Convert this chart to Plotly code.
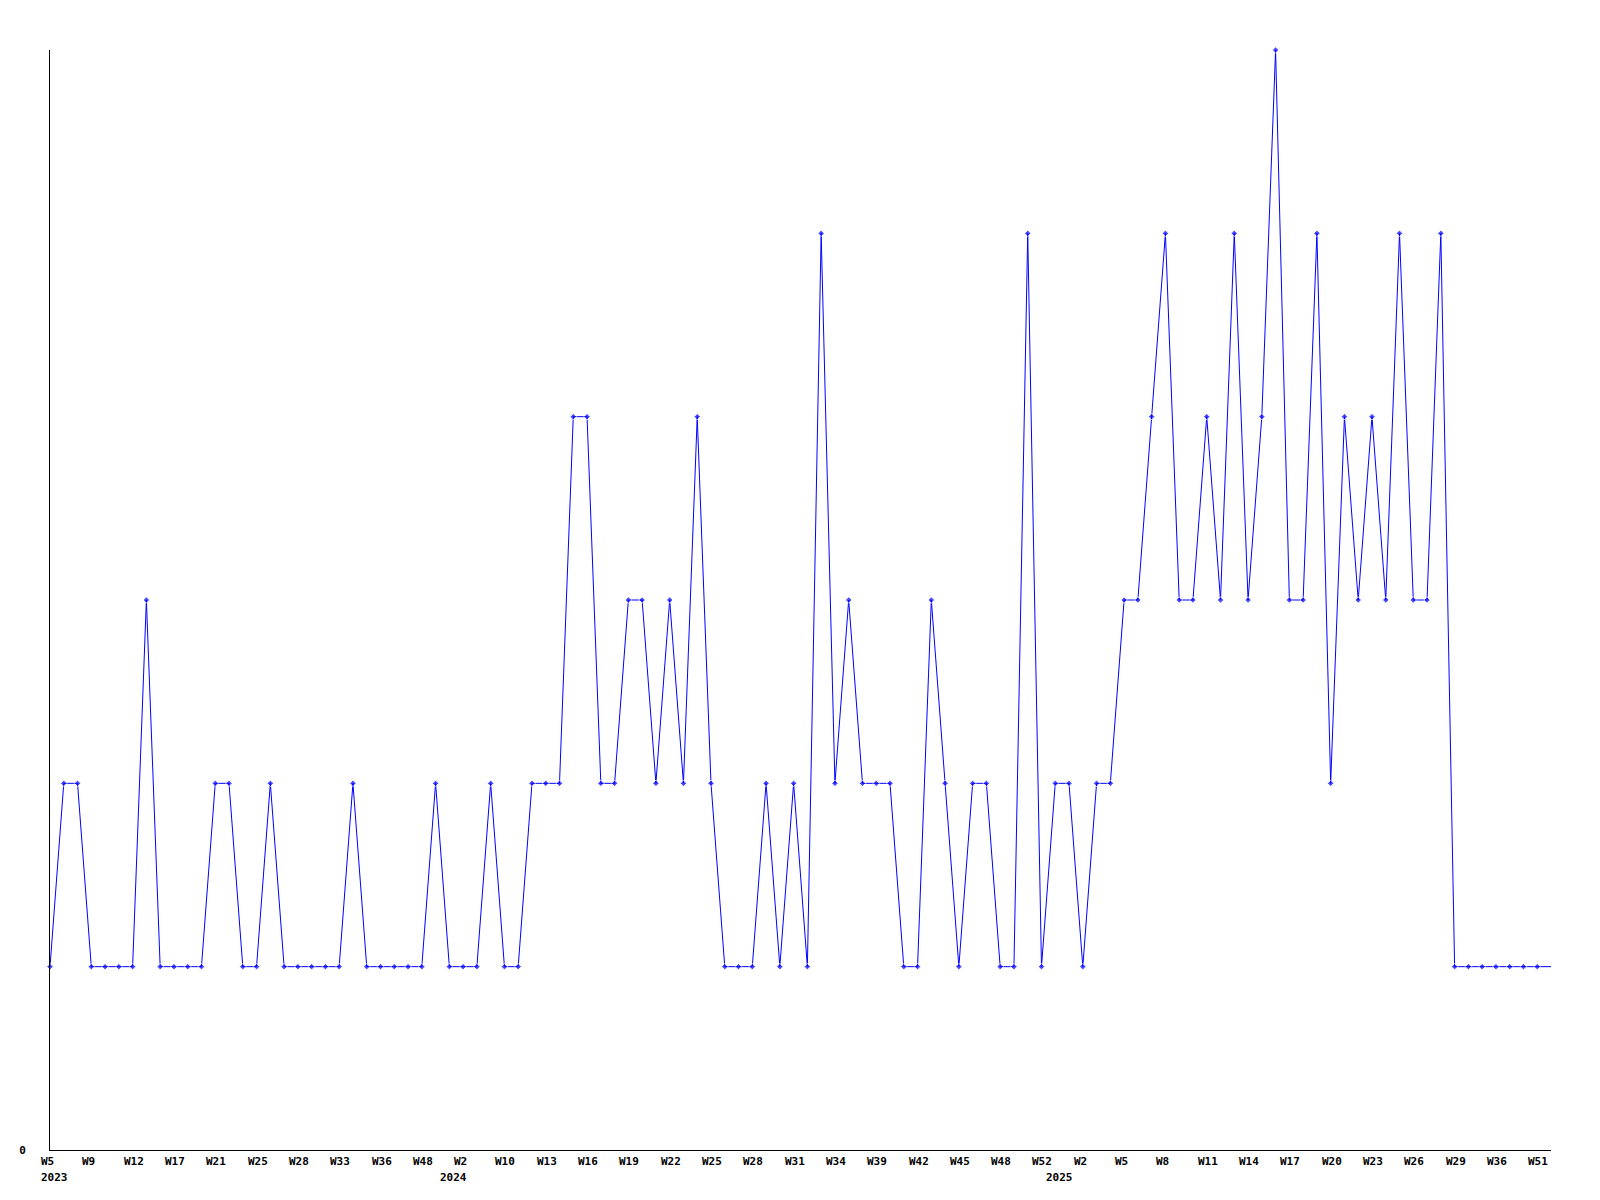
import plotly.graph_objects as go

# Weekly values, one per point (110 points)
values = [
    1, 2, 2, 1, 1, 1, 1, 3, 1, 1,
    1, 1, 2, 2, 1, 1, 2, 1, 1, 1,
    1, 1, 2, 1, 1, 1, 1, 1, 2, 1,
    1, 1, 2, 1, 1, 2, 2, 2, 4, 4,
    2, 2, 3, 3, 2, 3, 2, 4, 2, 1,
    1, 1, 2, 1, 2, 1, 5, 2, 3, 2,
    2, 2, 1, 1, 3, 2, 1, 2, 2, 1,
    1, 5, 1, 2, 2, 1, 2, 2, 3, 3,
    4, 5, 3, 3, 4, 3, 5, 3, 4, 6,
    3, 3, 5, 2, 4, 3, 4, 3, 5, 3,
    3, 5, 1, 1, 1, 1, 1, 1, 1, 1,
]

# Week tick labels, shown on every third point
tick_labels = [
    "W5", "W9", "W12", "W17", "W21", "W25", "W28", "W33", "W36", "W48",
    "W2", "W10", "W13", "W16", "W19", "W22", "W25", "W28", "W31", "W34",
    "W39", "W42", "W45", "W48", "W52", "W2", "W5", "W8", "W11", "W14",
    "W17", "W20", "W23", "W26", "W29", "W36", "W51",
]
tick_every = 3

# Year labels and the point index where each year starts
years = ["2023", "2024", "2025"]
year_start = [0, 29, 73]

x = list(range(len(values)))
marker_sizes = [5] * (len(values) - 1) + [0]

FONT = dict(family="DejaVu Sans Mono", size=11, color="black", weight="bold")

fig = go.Figure()
fig.add_trace(go.Scatter(
    x=x, y=values, mode="lines+markers",
    line=dict(color="#0000ff", width=1),
    marker=dict(symbol="diamond", size=marker_sizes, color="#0000ff"),
    cliponaxis=False,
    showlegend=False, hoverinfo="skip",
))

annotations = []
for k, lab in enumerate(tick_labels):
    annotations.append(dict(
        x=k * tick_every, y=0, xref="x", yref="paper",
        text=lab, showarrow=False, xanchor="left", yanchor="top",
        xshift=-11, yshift=-3, font=FONT,
    ))
for yr, idx in zip(years, year_start):
    annotations.append(dict(
        x=idx, y=0, xref="x", yref="paper",
        text=yr, showarrow=False, xanchor="left", yanchor="top",
        xshift=-11, yshift=-19, font=FONT,
    ))

fig.update_layout(
    width=1600, height=1200,
    margin=dict(l=50, r=49, t=50, b=50),
    plot_bgcolor="white", paper_bgcolor="white",
    annotations=annotations,
    xaxis=dict(
        range=[0, len(values) - 1], showgrid=False, zeroline=False,
        showline=True, linecolor="black", linewidth=1,
        showticklabels=False, ticks="",
    ),
    yaxis=dict(
        range=[0, 6], showgrid=False, zeroline=False,
        showline=True, linecolor="black", linewidth=1,
        tickvals=[0], ticktext=["0"], ticks="",
        tickfont=FONT, ticklabelstandoff=21,
    ),
)

fig.write_html("out.html", config={"displayModeBar": False},
               post_script="document.body.style.margin='0';")
